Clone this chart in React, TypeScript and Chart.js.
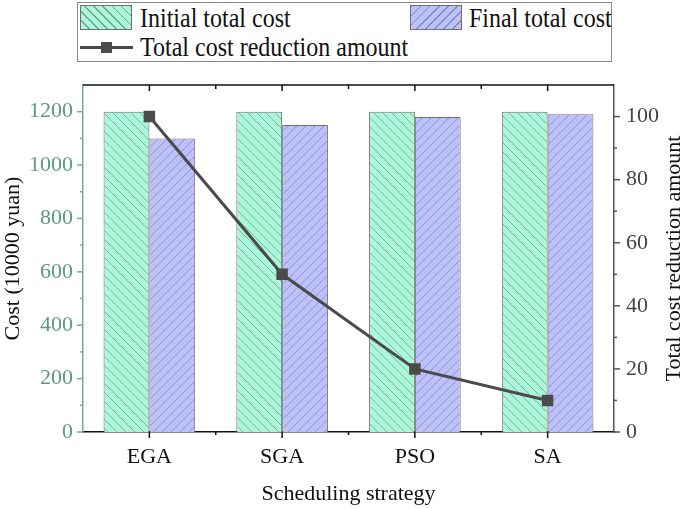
import React, { useEffect, useRef } from 'react';
import Chart from 'chart.js/auto';

// === Data ===
const CATEGORIES = ['EGA', 'SGA', 'PSO', 'SA'];
const INITIAL_COST = [1200, 1200, 1200, 1200];
const FINAL_COST = [1100, 1150, 1180, 1190];
const REDUCTION = [100, 50, 20, 10];

const SERIF = '"Liberation Serif", "Times New Roman", serif';
const LEFT_COLOR = '#6fae99';
const LEFT_TEXT = '#5b9886';
const RIGHT_COLOR = '#555555';
const GREEN_BG = '#abf7da';
const GREEN_LINE = '#73a292';
const BLUE_BG = '#bcc1f9';
const BLUE_LINE = '#8489c4';
const LINE_COLOR = '#4b4b4b';

// diagonal hatch tile -> pattern
const makeHatch = (ctx: CanvasRenderingContext2D, bg: string, fg: string, back: boolean) => {
  const s = 9;
  const c = document.createElement('canvas');
  c.width = s;
  c.height = s;
  const g = c.getContext('2d')!;
  g.fillStyle = bg;
  g.fillRect(0, 0, s, s);
  g.strokeStyle = fg;
  g.lineWidth = 0.8;
  g.beginPath();
  if (back) {
    g.moveTo(-1, -1); g.lineTo(s + 1, s + 1);
    g.moveTo(-1, s - 1); g.lineTo(1, s + 1);
    g.moveTo(s - 1, -1); g.lineTo(s + 1, 1);
  } else {
    g.moveTo(-1, s + 1); g.lineTo(s + 1, -1);
    g.moveTo(-1, 1); g.lineTo(1, -1);
    g.moveTo(s - 1, s + 1); g.lineTo(s + 1, s - 1);
  }
  g.stroke();
  return ctx.createPattern(c, 'repeat')!;
};

// tick marks, top frame line and right title
const framePlugin = {
  id: 'frame',
  afterDraw(chart: any) {
    const { ctx, chartArea: a, scales } = chart;
    const x = scales.x;
    const y = scales.y;
    const y1 = scales.y1;
    ctx.save();
    ctx.lineWidth = 1.5;

    // top line
    ctx.strokeStyle = '#111';
    ctx.beginPath();
    ctx.moveTo(a.left, a.top);
    ctx.lineTo(a.right, a.top);
    ctx.stroke();

    // x ticks (top + bottom)
    const n = CATEGORIES.length;
    for (let i = 0; i < n; i++) {
      const px = x.getPixelForValue(i);
      ctx.beginPath();
      ctx.moveTo(px, a.top); ctx.lineTo(px, a.top + 6);
      ctx.moveTo(px, a.bottom); ctx.lineTo(px, a.bottom + 6);
      ctx.stroke();
      if (i < n - 1) {
        const mx = (px + x.getPixelForValue(i + 1)) / 2;
        ctx.beginPath();
        ctx.moveTo(mx, a.top); ctx.lineTo(mx, a.top + 4);
        ctx.moveTo(mx, a.bottom); ctx.lineTo(mx, a.bottom + 3);
        ctx.stroke();
      }
    }

    // left ticks
    ctx.strokeStyle = LEFT_COLOR;
    for (let v = 0; v <= 1200; v += 100) {
      const py = y.getPixelForValue(v);
      const len = v % 200 === 0 ? 6 : 3;
      ctx.beginPath();
      ctx.moveTo(a.left, py); ctx.lineTo(a.left - len, py);
      ctx.stroke();
    }

    // right ticks
    ctx.strokeStyle = RIGHT_COLOR;
    for (let v = 0; v <= 100; v += 10) {
      const py = y1.getPixelForValue(v);
      const len = v % 20 === 0 ? 6 : 3;
      ctx.beginPath();
      ctx.moveTo(a.right, py); ctx.lineTo(a.right + len, py);
      ctx.stroke();
    }

    // right axis title, reading bottom to top
    ctx.fillStyle = '#111';
    ctx.font = `22px ${SERIF}`;
    ctx.textAlign = 'center';
    ctx.textBaseline = 'middle';
    ctx.translate(674, (a.top + a.bottom) / 2);
    ctx.rotate(-Math.PI / 2);
    ctx.fillText('Total cost reduction amount', 0, 0);
    ctx.restore();
  },
};

const App: React.FC = () => {
  const canvasRef = useRef<HTMLCanvasElement>(null);

  useEffect(() => {
    document.body.style.margin = '0';
    const ctx = canvasRef.current?.getContext('2d');
    if (!ctx) return;

    const chart = new Chart(ctx, {
      type: 'bar',
      data: {
        labels: CATEGORIES,
        datasets: [
          {
            type: 'line',
            label: 'Total cost reduction amount',
            data: REDUCTION,
            yAxisID: 'y1',
            borderColor: LINE_COLOR,
            backgroundColor: LINE_COLOR,
            borderWidth: 3,
            pointStyle: 'rect',
            pointRadius: 6,
            tension: 0,
            order: 0,
          },
          {
            type: 'bar',
            label: 'Initial total cost',
            data: INITIAL_COST,
            yAxisID: 'y',
            backgroundColor: makeHatch(ctx, GREEN_BG, GREEN_LINE, true),
            borderColor: '#6e6e6e',
            borderWidth: 1,
            categoryPercentage: 0.69,
            barPercentage: 1,
            order: 1,
          },
          {
            type: 'bar',
            label: 'Final total cost',
            data: FINAL_COST,
            yAxisID: 'y',
            backgroundColor: makeHatch(ctx, BLUE_BG, BLUE_LINE, false),
            borderColor: '#6e6e6e',
            borderWidth: 1,
            categoryPercentage: 0.69,
            barPercentage: 1,
            order: 1,
          },
        ],
      },
      options: {
        animation: false,
        responsive: false,
        devicePixelRatio: 1,
        layout: { padding: { top: 85, left: 0, right: 0, bottom: 0 } },
        plugins: { legend: { display: false }, tooltip: { enabled: false } },
        scales: {
          x: {
            offset: true,
            grid: { display: false, drawTicks: false },
            border: { display: true, color: '#111', width: 1.5 },
            ticks: { color: '#111', padding: 12, font: { family: SERIF, size: 22 } },
            title: {
              display: true,
              text: 'Scheduling strategy',
              color: '#111',
              padding: { top: 0, bottom: 2 },
              font: { family: SERIF, size: 22 },
            },
            afterFit: (s: any) => { s.height = 77; },
          },
          y: {
            position: 'left',
            min: 0,
            max: 1300,
            grid: { display: false, drawTicks: false },
            border: { display: true, color: LEFT_COLOR, width: 1.5 },
            ticks: {
              stepSize: 200,
              includeBounds: false,
              color: LEFT_TEXT,
              padding: 10,
              font: { family: SERIF, size: 22 },
              callback: (v: any) => String(v),
            },
            title: {
              display: true,
              text: 'Cost (10000 yuan)',
              color: '#111',
              padding: { top: 0, bottom: 0 },
              font: { family: SERIF, size: 22 },
            },
            afterFit: (s: any) => { s.width = 83; },
          },
          y1: {
            position: 'right',
            min: 0,
            max: 110,
            grid: { display: false, drawTicks: false },
            border: { display: true, color: RIGHT_COLOR, width: 1.5 },
            ticks: {
              stepSize: 20,
              includeBounds: false,
              color: '#444',
              padding: 12,
              font: { family: SERIF, size: 22 },
              callback: (v: any) => String(v),
            },
            afterFit: (s: any) => { s.width = 71; },
          },
        },
      },
      plugins: [framePlugin],
    });

    return () => chart.destroy();
  }, []);

  const swatch = (bg: string, line: string, angle: number): React.CSSProperties => ({
    position: 'absolute',
    width: 52,
    height: 25,
    boxSizing: 'border-box',
    border: '1px solid #6e6e6e',
    background: `repeating-linear-gradient(${angle}deg, ${bg} 0px, ${bg} 5.5px, ${line} 5.5px, ${line} 6.4px)`,
  });

  const text: React.CSSProperties = {
    position: 'absolute',
    fontFamily: SERIF,
    fontSize: 24,
    color: '#111',
    lineHeight: '24px',
    whiteSpace: 'nowrap',
    transform: 'scaleY(1.15)',
    transformOrigin: 'left center',
  };

  return (
    <div style={{ position: 'relative', width: 685, height: 509, background: '#fff' }}>
      <canvas ref={canvasRef} width={685} height={509} style={{ position: 'absolute', left: 0, top: 0 }} />
      {/* legend */}
      <div
        style={{
          position: 'absolute',
          left: 77,
          top: 2,
          width: 535,
          height: 60,
          boxSizing: 'border-box',
          border: '1px solid #8a8a8a',
          background: '#fff',
        }}
      />
      <div style={{ ...swatch(GREEN_BG, GREEN_LINE, 45), left: 80, top: 5 }} />
      <div style={{ ...text, left: 140, top: 6 }}>Initial total cost</div>
      <div style={{ ...swatch(BLUE_BG, BLUE_LINE, -45), left: 410, top: 5 }} />
      <div style={{ ...text, left: 469, top: 6 }}>Final total cost</div>
      <div style={{ position: 'absolute', left: 80, top: 46, width: 53, height: 3, background: LINE_COLOR }} />
      <div style={{ position: 'absolute', left: 101, top: 42, width: 11, height: 11, background: LINE_COLOR }} />
      <div style={{ ...text, left: 140, top: 35 }}>Total cost reduction amount</div>
    </div>
  );
};

export default App;
